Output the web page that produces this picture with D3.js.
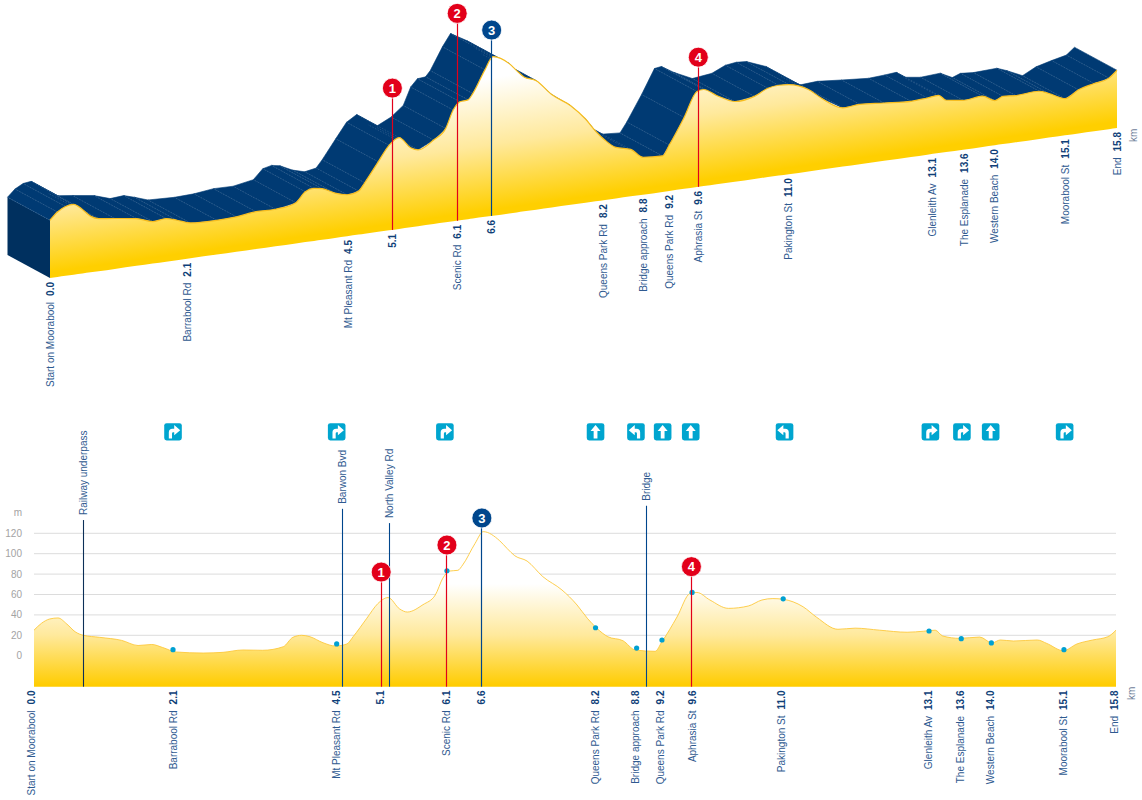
<!DOCTYPE html>
<html><head><meta charset="utf-8">
<script src="https://cdn.jsdelivr.net/npm/d3@7"></script>
<style>html,body{margin:0;padding:0;background:#fff}svg{display:block}text{font-family:"Liberation Sans",Arial,sans-serif}</style>
</head><body><div id="chart"></div>
<script>
// ---------- data ----------
const distanceKm = [0,0.11,0.23,0.35,0.48,0.60,0.72,0.96,1.28,1.52,1.72,1.88,2.08,2.47,2.76,3.05,3.34,3.64,3.78,3.91,4.03,4.22,4.40,4.57,4.66,4.86,5.02,5.17,5.34,5.45,5.68,5.86,5.97,6.07,6.19,6.26,6.44,6.56,6.80,6.91,7.02,7.20,7.43,7.71,7.93,8.08,8.22,8.38,8.60,8.78,9.07,9.17,9.39,9.58,9.68,9.87,10.14,10.43,10.63,10.79,10.94,11.23,11.43,11.74,11.99,12.35,12.75,12.99,13.16,13.27,13.52,13.81,13.99,14.11,14.30,14.65,14.79,15.03,15.23,15.46,15.68,15.8];
const elevationM = [25,31.8,36,37,31,23.5,20,18,15,10,11,8,3.6,2.6,3.3,5.6,5.3,8.8,18,20,18.6,12.7,9.5,11.5,18.6,36.7,51,57,45.8,42.8,50,59.5,76,83,83.7,89,110,121.6,112.7,105,98,92.8,77.5,64.4,49.7,36.7,26.8,18.6,14.7,5.6,4.3,13.7,38,61,62,54.6,46.4,48.7,54.6,56,55.3,48,37.6,25.9,27,25,23,24,25,19.3,17,18.3,12.5,15.4,14.4,15.4,12,4.9,11.5,15.4,18.6,25];

const yTicks = [0,20,40,60,80,100,120];
const gridTicks = [20,40,60,80,100,120];

const placeNames = ["Start on Moorabool","Barrabool Rd","Mt Pleasant Rd","","Scenic Rd","","Queens Park Rd","Bridge approach","Queens Park Rd","Aphrasia St","Pakington St","Glenleith Av","The Esplanade","Western Beach","Moorabool St","End"];
const placeLabels = ["0.0","2.1","4.5","5.1","6.1","6.6","8.2","8.8","9.2","9.6","11.0","13.1","13.6","14.0","15.1","15.8"];
const placeKm = [-0.04,2.03,4.42,5.06,6.03,6.54,8.2,8.79,9.15,9.62,10.92,13.06,13.53,13.97,15.03,15.78];
const placeKmTop = [0,2.03,4.42,5.07,6.03,6.54,8.2,8.79,9.17,9.6,10.94,13.07,13.54,13.98,15.04,15.8];

const dotKm = [2.03,4.42,6.03,8.2,8.8,9.17,9.61,10.94,13.07,13.54,13.98,15.04];
const dotM = [5.9,11.5,83.3,27.4,7.5,15.4,62,55.8,24.2,16.7,12.5,5.9];

const turnKm = [2.03,4.42,6.0,8.2,8.79,9.18,9.59,10.96,13.09,13.55,13.97,15.05];
const turnType = ["right","right","right","up","left","up","up","left","right","right","up","right"];

const featureNames = ["Railway underpass","Barwon Bvd","North Valley Rd","Bridge"];
const featureKm = [0.72,4.5,5.19,8.94];
const featureTopM = [133,144,130,147];

const markerNames = ["1","2","3","4"];
const markerKm = [5.07,6.03,6.54,9.6];
const markerM = [82,108.5,135,87.3];
const markerTopM = [105,167.5,147,93.5];
const markerColors = ["#e2001a","#e2001a","#00468c","#e2001a"];

// ---------- scales ----------
const W=1142,H=800, NAVY="#003a73", TXT="#2f5a90", NUM="#0f3f78";
const x2 = d3.scaleLinear().domain([0,15.8]).range([34,1116]);
const y2 = d3.scaleLinear().domain([-30,0,120]).range([686.7,655.7,533.3]);
const x1 = d3.scaleLinear().domain([0,15.8]).range([50,1117]);
const base1 = d3.scaleLinear().domain([0,15.8]).range([278,128]);
const h1 = d3.scaleLinear().domain([-30,120]).range([0,157.5]);
const top1 = (k,m)=>base1(k)-h1(m);
const depth = {x:-42.5,y:-23};
const crisp = v=>Math.round(v-0.5)+0.5;
const profile = distanceKm.map((k,i)=>({k,m:elevationM[i]}));

const svg = d3.select("#chart").append("svg").attr("width",W).attr("height",H).attr("viewBox",`0 0 ${W} ${H}`);
const defs = svg.append("defs");
const g1 = defs.append("linearGradient").attr("id","g1").attr("gradientUnits","userSpaceOnUse")
  .attr("x1",492).attr("y1",57).attr("x2",514).attr("y2",213);
[[0.13,"#ffffff"],[0.55,"#ffe99c"],[0.96,"#ffcf00"]].forEach(([o,c])=>g1.append("stop").attr("offset",o).attr("stop-color",c));
const g2 = defs.append("linearGradient").attr("id","g2").attr("gradientUnits","userSpaceOnUse")
  .attr("x1",0).attr("y1",584).attr("x2",0).attr("y2",686);
[[0,"#ffffff"],[0.5,"#ffe99c"],[1,"#ffcc00"]].forEach(([o,c])=>g2.append("stop").attr("offset",o).attr("stop-color",c));

// ---------- 3D chart ----------
const top3d = svg.append("g");
// end wall
top3d.append("polygon").attr("fill","#00305f").attr("points",[
 [x1(0),base1(0)],[x1(0)+depth.x,base1(0)+depth.y],[x1(0)+depth.x,top1(0,elevationM[0])+depth.y],[x1(0),top1(0,elevationM[0])]].join(" "));
// ridge surface, one quad per profile segment
top3d.selectAll("polygon.q").data(d3.pairs(profile)).join("polygon").attr("class","q")
 .attr("fill",NAVY).attr("stroke",NAVY).attr("stroke-width",0.6).attr("points",([a,b])=>[
  [x1(a.k),top1(a.k,a.m)],[x1(b.k),top1(b.k,b.m)],[x1(b.k)+depth.x,top1(b.k,b.m)+depth.y],[x1(a.k)+depth.x,top1(a.k,a.m)+depth.y]].join(" "));
// hatch lines on the surface
top3d.selectAll("line.h").data(profile).join("line").attr("class","h")
 .attr("x1",d=>x1(d.k)).attr("y1",d=>top1(d.k,d.m)).attr("x2",d=>x1(d.k)+depth.x).attr("y2",d=>top1(d.k,d.m)+depth.y)
 .attr("stroke","#fff").attr("stroke-opacity",0.22).attr("stroke-width",0.6).attr("stroke-dasharray","1.5 1.5");
// front face
top3d.append("path").attr("fill","url(#g1)").attr("d",d3.area().curve(d3.curveMonotoneX)
 .x(d=>x1(d.k)).y0(d=>base1(d.k)).y1(d=>top1(d.k,d.m))(profile));
top3d.append("path").attr("fill","none").attr("stroke","#f7bd1e").attr("stroke-width",1.2).attr("d",d3.line().curve(d3.curveMonotoneX)
 .x(d=>x1(d.k)).y(d=>top1(d.k,d.m))(profile));

function placeLabel(sel,x,y,name,num){
  const t=sel.append("text").attr("transform",`translate(${x+3.5},${y}) rotate(-90)`).attr("text-anchor","end").attr("font-size",10);
  if(name) t.append("tspan").attr("fill",TXT).text(name);
  t.append("tspan").attr("fill",NUM).attr("font-weight","bold").attr("dx",name?6:0).text(num);
}
placeLabels.forEach((n,i)=>placeLabel(top3d,x1(placeKmTop[i]),base1(placeKmTop[i])+4,placeNames[i],n));
top3d.append("text").attr("transform",`translate(1137,142) rotate(-90)`).attr("font-size",10).attr("fill","#6f8099").text("km");

function marker(sel,x,yTop,yBot,label,color){
  const lx=crisp(x);
  sel.append("line").attr("x1",lx).attr("x2",lx).attr("y1",yTop).attr("y2",yBot).attr("stroke",color).attr("stroke-width",1.2);
  sel.append("circle").attr("cx",x).attr("cy",yTop).attr("r",10).attr("fill",color).attr("stroke","#fff").attr("stroke-width",0.8);
  sel.append("text").attr("x",x).attr("y",yTop+4.6).attr("text-anchor","middle").attr("fill","#fff").attr("font-size",13).attr("font-weight","bold").text(label);
}
markerNames.forEach((n,i)=>{
  const k=markerKm[i]; marker(top3d,x1(k),top1(k,markerTopM[i]),base1(k),n,markerColors[i]);
});

// ---------- flat chart ----------
const flat = svg.append("g");
flat.selectAll("line.g").data(gridTicks).join("line").attr("class","g")
 .attr("x1",34).attr("x2",1116).attr("y1",d=>y2(d)).attr("y2",d=>y2(d)).attr("stroke","#dcdcdc").attr("stroke-width",1);
flat.selectAll("text.y").data(yTicks).join("text").attr("class","y")
 .attr("x",22).attr("y",d=>y2(d)+3.5).attr("text-anchor","end").attr("font-size",10).attr("fill","#a3a3a3").text(d=>d);
flat.append("text").attr("x",22).attr("y",516).attr("text-anchor","end").attr("font-size",10).attr("fill","#a3a3a3").text("m");
flat.append("path").attr("fill","url(#g2)").attr("d",d3.area().curve(d3.curveMonotoneX)
 .x(d=>x2(d.k)).y0(y2(-30)).y1(d=>y2(d.m))(profile));
flat.append("path").attr("fill","none").attr("stroke","#fdc83c").attr("stroke-width",0.9).attr("d",d3.line().curve(d3.curveMonotoneX)
 .x(d=>x2(d.k)).y(d=>y2(d.m))(profile));

featureNames.forEach((n,i)=>{
  const x=crisp(x2(featureKm[i])), yt=y2(featureTopM[i]);
  flat.append("line").attr("x1",x).attr("x2",x).attr("y1",yt).attr("y2",y2(-30)).attr("stroke",i==0?"#0c2f57":"#00468c").attr("stroke-width",1.1);
  flat.append("text").attr("transform",`translate(${x+3},${yt-5}) rotate(-90)`).attr("font-size",10).attr("fill",TXT).text(n);
});
flat.selectAll("circle.d").data(dotKm).join("circle").attr("class","d")
 .attr("cx",d=>x2(d)).attr("cy",(d,i)=>y2(dotM[i])).attr("r",2.6).attr("fill","#00a0d2");
markerNames.forEach((n,i)=>marker(flat,x2(markerKm[i]),y2(markerM[i]),y2(-30),n,markerColors[i]));
placeLabels.forEach((n,i)=>placeLabel(flat,x2(placeKm[i]),690.5,placeNames[i],n));
flat.append("text").attr("transform",`translate(1135,700) rotate(-90)`).attr("font-size",10).attr("fill","#6f8099").text("km");

// turn icons
const arrows = {
 right:"M-4.2 6.6V0.5Q-4.2-3 -0.5-3H1.2V-6.8L7.2-1.6L1.2 3.4V0.4H0.2Q-1 0.4-1 1.6V6.6Z",
 left:"M4.2 6.6V0.5Q4.2-3 0.5-3H-1.2V-6.8L-7.2-1.6L-1.2 3.4V0.4H-0.2Q1 0.4 1 1.6V6.6Z",
 up:"M-1.9 6.6V-0.8H-5L0-6.8L5-0.8H1.9V6.6Z"
};
const icons = svg.append("g").selectAll("g").data(turnKm).join("g").attr("transform",d=>`translate(${x2(d)},431.8)`);
icons.append("rect").attr("x",-8.8).attr("y",-8.6).attr("width",17.6).attr("height",17.2).attr("rx",2.4).attr("fill","#00a5cf");
icons.append("path").attr("fill","#fff").attr("d",(d,i)=>arrows[turnType[i]]);
</script></body></html>
